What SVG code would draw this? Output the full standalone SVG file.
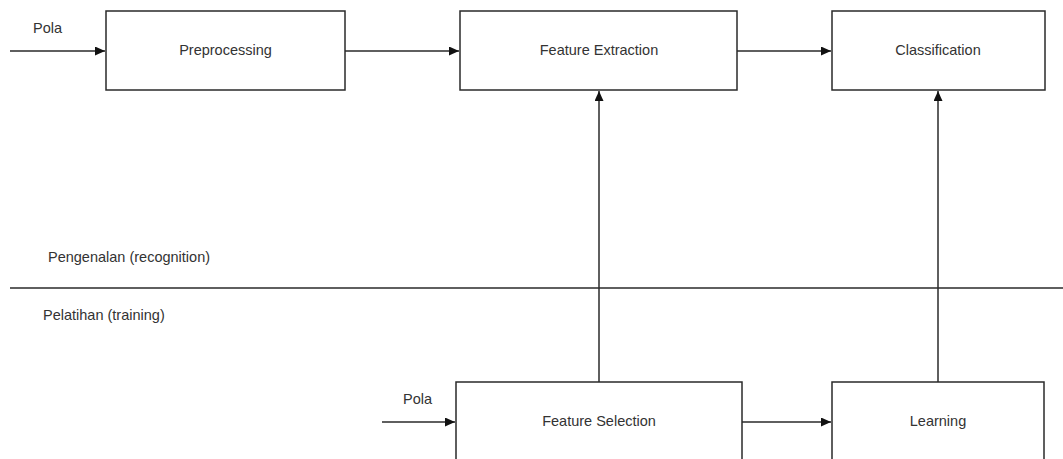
<svg xmlns="http://www.w3.org/2000/svg" width="1063" height="459" viewBox="0 0 1063 459">
<style>
.box{fill:#fff;stroke:#2a2a2a;stroke-width:1.5}
.ln{fill:none;stroke:#2a2a2a;stroke-width:1.5}
text{font-family:"Liberation Sans",Arial,sans-serif;font-size:14.5px;fill:#333}
.c{text-anchor:middle}
</style>
<defs>
<marker id="ah" markerUnits="userSpaceOnUse" markerWidth="11" markerHeight="9" refX="10" refY="4.5" orient="auto">
<path d="M0,0 L10,4.5 L0,9 z" fill="#111"/>
</marker>
</defs>
<rect width="1063" height="459" fill="#fff"/>
<g id="connectors">
<line class="ln" x1="10" y1="51" x2="105" y2="51" marker-end="url(#ah)"/>
<line class="ln" x1="345" y1="51" x2="459" y2="51" marker-end="url(#ah)"/>
<line class="ln" x1="737" y1="51" x2="831" y2="51" marker-end="url(#ah)"/>
<line class="ln" x1="382" y1="422" x2="455" y2="422" marker-end="url(#ah)"/>
<line class="ln" x1="742" y1="422" x2="831" y2="422" marker-end="url(#ah)"/>
<line class="ln" x1="599" y1="382" x2="599" y2="91" marker-end="url(#ah)"/>
<line class="ln" x1="938" y1="382" x2="938" y2="91" marker-end="url(#ah)"/>
</g>
<g id="divider">
<line class="ln" x1="10" y1="288" x2="1063" y2="288"/>
<text x="48" y="262">Pengenalan (recognition)</text>
<text x="43" y="320">Pelatihan (training)</text>
</g>
<g id="pola-top"><text x="33" y="33">Pola</text></g>
<g id="pola-bottom"><text x="403" y="404">Pola</text></g>
<g id="preprocessing">
<rect class="box" x="106" y="11" width="239" height="79"/>
<text class="c" x="225.5" y="55">Preprocessing</text>
</g>
<g id="feature-extraction">
<rect class="box" x="460" y="11" width="277" height="79"/>
<text class="c" x="599" y="55">Feature Extraction</text>
</g>
<g id="classification">
<rect class="box" x="832" y="11" width="213" height="79"/>
<text class="c" x="938" y="55">Classification</text>
</g>
<g id="feature-selection">
<rect class="box" x="456" y="382" width="286" height="90"/>
<text class="c" x="599" y="426">Feature Selection</text>
</g>
<g id="learning">
<rect class="box" x="832" y="382" width="212" height="90"/>
<text class="c" x="938" y="426">Learning</text>
</g>
</svg>
